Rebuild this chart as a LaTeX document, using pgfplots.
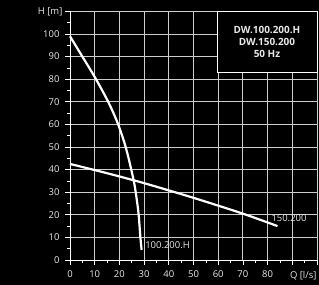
\documentclass[border=0pt]{standalone}
\usepackage{pgfplots}
\pgfplotsset{compat=1.18}
\usepackage{fontspec}
\setmainfont{Open Sans}
\usetikzlibrary{backgrounds}
\definecolor{gridc}{RGB}{205,205,205}
\definecolor{txt}{RGB}{232,232,232}
\begin{document}
\begin{tikzpicture}[background rectangle/.style={fill=black}, show background rectangle, inner frame sep=0pt]
\begin{axis}[
  scale only axis,
  width=247bp, height=248.6bp,
  xmin=0, xmax=100, ymin=0, ymax=110,
  axis x line=bottom, axis y line=left,
  axis line style={white, line width=0.9pt, -},
  xtick={0,10,...,100}, ytick={0,10,...,110},
  xticklabels={0,10,20,30,40,50,60,70,80,,},
  yticklabels={0,10,20,30,40,50,60,70,80,90,100,},
  minor x tick num=1, minor y tick num=1,
  tick align=outside,
  major tick length=5bp, minor tick length=3bp,
  tick style={white, line width=0.7pt},
  grid=major,
  major grid style={gridc, line width=0.9pt},
  ticklabel style={font=\fontsize{9.5}{10}\selectfont, text=txt},
  /pgf/number format/assume math mode=true,
  xticklabel style={yshift=-2bp},
  yticklabel style={xshift=-2bp},
  clip=false,
]
\coordinate (bl) at (rel axis cs:0,0);
\coordinate (tr) at (rel axis cs:1,1);
\addplot[white, line width=2.2pt, smooth] coordinates {
(0,99) (5,90) (10,81) (15,71) (18,64) (20,58.5) (22,52) (23.5,46) (24.8,40) (26,34) (27,27) (27.8,20) (28.5,10) (29,4.5)
};
\addplot[white, line width=2.2pt, smooth] coordinates {
(0,42.5) (15,38.4) (30,34) (50,27.5) (70,20.5) (84,15)
};
\draw[white, line width=0.8pt, fill=black] (axis cs:59.5,83.2) rectangle (axis cs:100,110);
\node[align=center, text=txt, font=\fontsize{10}{12}\selectfont\bfseries] at (axis cs:79.75,96.6) {DW.100.200.H\\DW.150.200\\50 Hz};
\node[anchor=west, text=txt, font=\fontsize{9.5}{10}\selectfont, inner sep=0pt] at (axis cs:30.4,6.5) {100.200.H};
\node[anchor=west, text=txt, font=\fontsize{9.5}{10}\selectfont, inner sep=0pt] at (axis cs:81.5,18.7) {150.200};
\node[anchor=west, text=txt, font=\fontsize{9.5}{10}\selectfont, inner sep=0pt] at (axis cs:89,-7) {Q [l/s]};
\node[anchor=east, text=txt, font=\fontsize{9.5}{10}\selectfont, inner sep=0pt] at (axis cs:-3,110) {H [m]};
\end{axis}
\pgfresetboundingbox
\path[use as bounding box] ([xshift=-70bp,yshift=-25bp]bl) rectangle ([xshift=2bp,yshift=11.4bp]tr);
\end{tikzpicture}
\end{document}
